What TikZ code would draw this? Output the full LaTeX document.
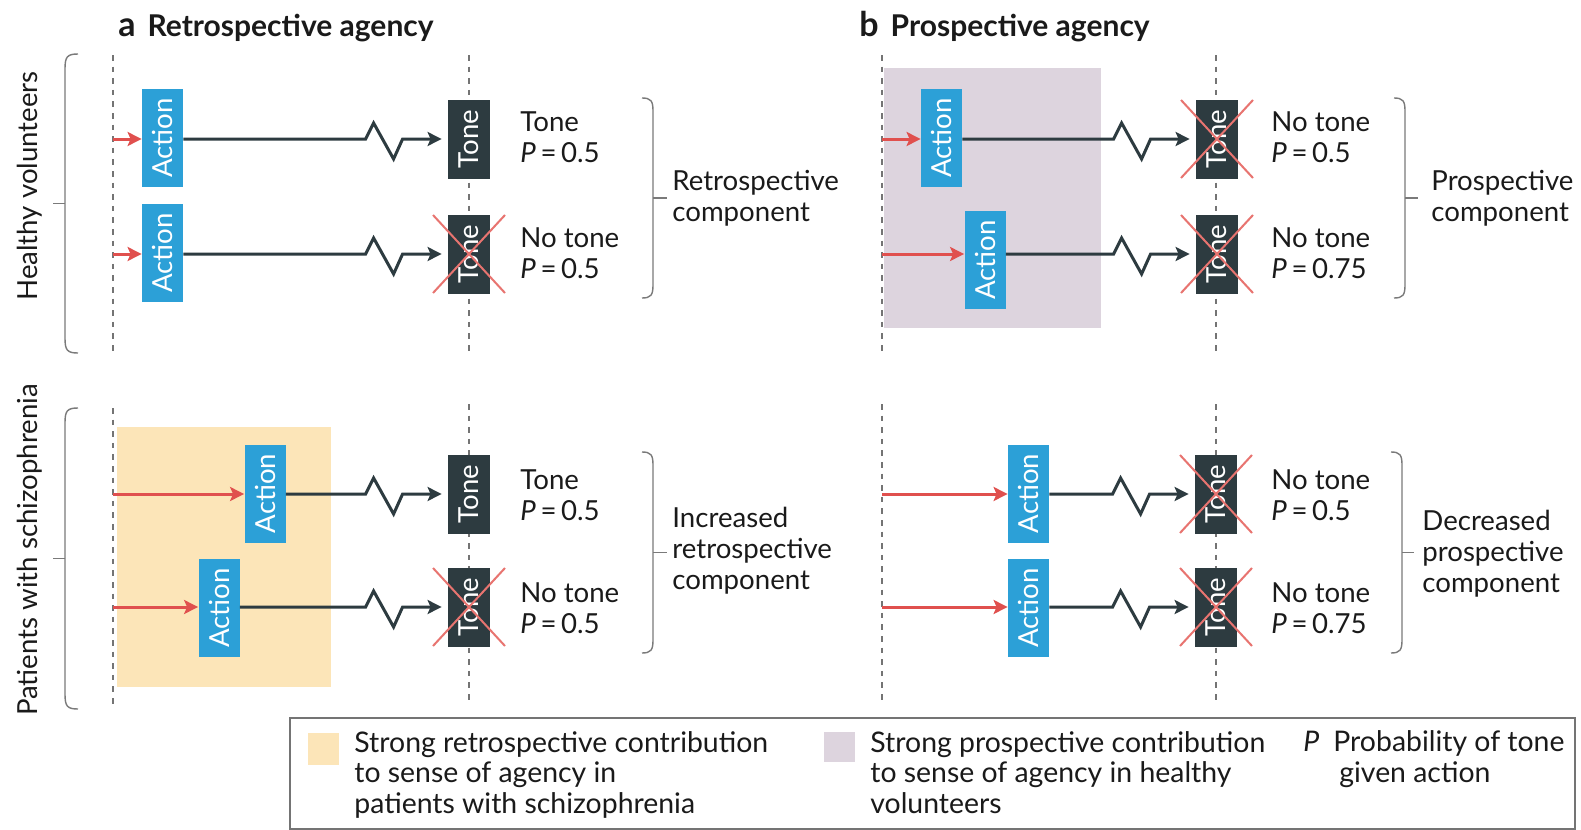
\documentclass[tikz,border=0pt]{standalone}
\usepackage{fontspec}
\setmainfont{Lato}
\usetikzlibrary{arrows.meta,calc}
\definecolor{actblue}{HTML}{2CA0D7}
\definecolor{tonedark}{HTML}{2D3B40}
\definecolor{redarr}{HTML}{E0504E}
\definecolor{crossred}{HTML}{E87470}
\definecolor{orangefill}{HTML}{FCE5B8}
\definecolor{purplefill}{HTML}{DDD4DE}
\definecolor{dashgray}{HTML}{747474}
\definecolor{bracegray}{HTML}{7A7A7A}
\definecolor{txt}{HTML}{1A1A1A}
\newcommand\agrow[7]{%
 \node[actbox] (#1a) at (#2,#3) {\rotatebox{90}{Action}};
 \node[tonebox] (#1t) at (#5,#4) {\rotatebox{90}{Tone}};
 \coordinate (#1s) at (#6,#4);
 \coordinate (#1z) at ($(#1t.west)+(-82,0)$);
 \draw[redline] (#1s) -- (#1a.west |- #1s);
 \draw[blkline] (#1a.east |- #1s) -- (#1z) -- ++(8,-16) -- ++(20,36) -- ++(9,-20) -- (#1t.west);
 \ifnum#7=1
 \draw[crossline] ($(#1t.center)+(-36,-39)$) -- ($(#1t.center)+(36,39)$)
   ($(#1t.center)+(-36,39)$) -- ($(#1t.center)+(36,-39)$);
 \fi
}
\newcommand\agRbrk[4]{% x, top, bottom, tick-end
 \draw[bracestyle] ($(#1,#2)+(-11,0)$) .. controls ($(#1,#2)+(-2,0)$) and ($(#1,#2)+(0,3)$) .. ($(#1,#2)+(0,13)$)
   -- ($(#1,#3)+(0,-13)$) .. controls ($(#1,#3)+(0,-3)$) and ($(#1,#3)+(-2,0)$) .. ($(#1,#3)+(-11,0)$);
 \draw[bracestyle] (#1,{(#2+#3)/2}) -- (#4,{(#2+#3)/2});
}
\newcommand\agLbrk[4]{% x, top, bottom, tick-end
 \draw[bracestyle] ($(#1,#2)+(13,0)$) .. controls ($(#1,#2)+(2,0)$) and ($(#1,#2)+(0,3)$) .. ($(#1,#2)+(0,15)$)
   -- ($(#1,#3)+(0,-15)$) .. controls ($(#1,#3)+(0,-3)$) and ($(#1,#3)+(2,0)$) .. ($(#1,#3)+(13,0)$);
 \draw[bracestyle] (#1,{(#2+#3)/2}) -- (#4,{(#2+#3)/2});
}
\begin{document}
\begin{tikzpicture}[x=0.5pt,y=-0.5pt,
  font=\fontsize{13.8}{15.5}\selectfont, text=txt,
  actbox/.style={rectangle, fill=actblue, text=white, minimum width=20.5pt, minimum height=49pt, inner sep=0pt},
  tonebox/.style={rectangle, fill=tonedark, text=white, minimum width=21pt, minimum height=39.5pt, inner sep=0pt},
  redline/.style={draw=redarr, line width=1.5pt, -{Stealth[length=7pt,width=7pt,inset=1.5pt]}},
  blkline/.style={draw=tonedark, line width=1.5pt, -{Stealth[length=7pt,width=7pt,inset=1.5pt]}, shorten >=3pt},
  crossline/.style={draw=crossred, line width=1pt},
  dashline/.style={draw=dashgray, line width=0.7pt, dash pattern=on 2.8pt off 3pt},
  bracestyle/.style={draw=bracegray, line width=0.7pt},
  lbl/.style={anchor=base west, align=left, inner sep=0pt},
  leg/.style={anchor=base west, align=left, inner sep=0pt, font=\fontsize{14.2}{15.25}\selectfont},
  ttl/.style={anchor=base west, inner sep=0pt, font=\fontsize{15}{17}\selectfont\bfseries}]
\useasboundingbox (0,0) rectangle (1581,830);
\fill[white] (0,0) rectangle (1581,830);
% backgrounds
\fill[purplefill] (884,68) rectangle (1101,328);
\fill[orangefill] (117,427) rectangle (331,687);
% dashed lines
\draw[dashline] (113,55) -- (113,352);
\draw[dashline] (469,55) -- (469,352);
\draw[dashline] (882,55) -- (882,352);
\draw[dashline] (1216,55) -- (1216,352);
\draw[dashline] (113,408) -- (113,706);
\draw[dashline] (469,404) -- (469,700);
\draw[dashline] (882,404) -- (882,700);
\draw[dashline] (1216,404) -- (1216,700);
% titles
\node[ttl] (ta) at (118,36) {{\fontsize{17}{17}\selectfont a}\hspace{6pt}Retrospective agency};
\node[ttl] (tb) at (859,36) {{\fontsize{17}{17}\selectfont b}\hspace{6pt}Prospective agency};
% rows
\agrow{A1}{162.5}{138}{139}{469}{113}{0}
\agrow{A2}{162.5}{253}{254}{469}{113}{1}
\agrow{B1}{941.5}{138}{139}{1217}{882}{1}
\agrow{B2}{985}{260}{254}{1217}{882}{1}
\agrow{C1}{265}{493.5}{494}{469}{113}{0}
\agrow{C2}{219}{608}{607}{469}{113}{1}
\agrow{D1}{1028.5}{493.5}{494}{1216}{882}{1}
\agrow{D2}{1028.5}{608}{607}{1216}{882}{1}
% labels (anchor = baseline of last line)
\node[lbl] (LA1) at (520,162) {Tone\\\textit{P}\,=\,0.5};
\node[lbl] (LA2) at (520,278) {No tone\\\textit{P}\,=\,0.5};
\node[lbl] (LC1) at (520,520) {Tone\\\textit{P}\,=\,0.5};
\node[lbl] (LC2) at (520,633) {No tone\\\textit{P}\,=\,0.5};
\node[lbl] (LB1) at (1271,162) {No tone\\\textit{P}\,=\,0.5};
\node[lbl] (LB2) at (1271,278) {No tone\\\textit{P}\,=\,0.75};
\node[lbl] (LD1) at (1271,520) {No tone\\\textit{P}\,=\,0.5};
\node[lbl] (LD2) at (1271,633) {No tone\\\textit{P}\,=\,0.75};
% right braces
\agRbrk{653}{98}{298}{667}
\agRbrk{653}{452}{653}{667}
\agRbrk{1405}{98}{298}{1418}
\agRbrk{1402}{452}{653}{1414}
\node[lbl] (RA) at (672,221) {Retrospective\\component};
\node[lbl] (RC) at (672,589) {Increased\\retrospective\\component};
\node[lbl] (RB) at (1431,221) {Prospective\\component};
\node[lbl] (RD) at (1422,592) {Decreased\\prospective\\component};
% left braces
\agLbrk{65}{54}{353}{53}
\agLbrk{65}{408}{709}{53}
\node[rotate=90, inner sep=0pt] (HV) at (30,186) {Healthy volunteers};
\node[rotate=90, inner sep=0pt] (PS) at (30,550) {Patients with schizophrenia};
% legend
\draw[draw=dashgray, line width=0.7pt] (290,718) rectangle (1575,829);
\fill[orangefill] (308,733) rectangle (339,765);
\fill[purplefill] (824,732) rectangle (855,762);
\node[leg] (LG1) at (354,813) {Strong retrospective contribution\\to sense of agency in\\patients with schizophrenia};
\node[leg] (LG2) at (870,813) {Strong prospective contribution\\to sense of agency in healthy\\volunteers};
\node[leg] (LG3) at (1303,751) {\textit{P}};
\node[leg] (LG4) at (1333,782) {Probability of tone\\\hspace{3pt}given action};
\end{tikzpicture}
\end{document}
